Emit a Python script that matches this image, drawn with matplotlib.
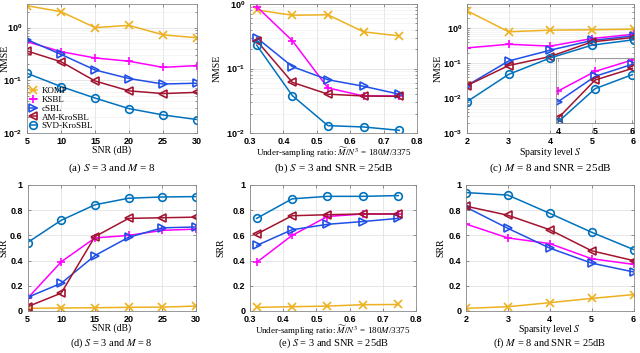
import numpy as np
import matplotlib
matplotlib.use('Agg')
import matplotlib.pyplot as plt
from matplotlib.ticker import LogLocator, NullFormatter

plt.rcParams['font.family'] = 'Liberation Serif'
plt.rcParams['mathtext.fontset'] = 'custom'
plt.rcParams['mathtext.rm'] = 'Liberation Sans:bold'
plt.rcParams['mathtext.bf'] = 'Liberation Sans:bold'
plt.rcParams['mathtext.it'] = 'Liberation Sans:bold'

# %%
# Data
methods = ['KOMP', 'KSBL', 'cSBL', 'AM-KroSBL', 'SVD-KroSBL']
colors = ['#EDB120', '#FF00FF', '#1F4FE6', '#A2142F', '#0072BD']
markers = ['x', '+', '>', '<', 'o']

snr = [5, 10, 15, 20, 25, 30]
ratio = [0.32, 0.4267, 0.5333, 0.64, 0.7467]
sparsity = [2, 3, 4, 5, 6]

nmse_snr = [[2.6, 2.0, 1.0, 1.1, 0.73, 0.64],
            [0.54, 0.35, 0.265, 0.23, 0.176, 0.19],
            [0.59, 0.31, 0.157, 0.108, 0.085, 0.088],
            [0.36, 0.225, 0.097, 0.063, 0.056, 0.059],
            [0.136, 0.076, 0.046, 0.029, 0.022, 0.018]]

nmse_ratio = [[0.81, 0.67, 0.68, 0.37, 0.32],
              [0.91, 0.27, 0.050, 0.0375, 0.0375],
              [0.30, 0.107, 0.067, 0.053, 0.040],
              [0.27, 0.061, 0.040, 0.0375, 0.037],
              [0.23, 0.038, 0.013, 0.0124, 0.011]]

nmse_sparsity = [[3.2, 0.80, 0.89, 0.91, 0.95],
                 [0.276, 0.35, 0.31, 0.51, 0.68],
                 [0.023, 0.116, 0.237, 0.45, 0.61],
                 [0.023, 0.086, 0.156, 0.41, 0.55],
                 [0.0079, 0.048, 0.142, 0.33, 0.47]]

srr_snr = [[0.021, 0.024, 0.026, 0.029, 0.031, 0.039],
           [0.10, 0.39, 0.58, 0.60, 0.64, 0.65],
           [0.108, 0.22, 0.44, 0.585, 0.66, 0.667],
           [0.034, 0.142, 0.59, 0.735, 0.74, 0.745],
           [0.543, 0.72, 0.843, 0.895, 0.905, 0.908]]

srr_ratio = [[0.029, 0.034, 0.039, 0.05, 0.052],
             [0.386, 0.60, 0.75, 0.77, 0.77],
             [0.52, 0.645, 0.688, 0.71, 0.735],
             [0.61, 0.756, 0.764, 0.77, 0.77],
             [0.735, 0.89, 0.91, 0.91, 0.916]]

srr_sparsity = [[0.021, 0.034, 0.066, 0.10, 0.13],
                [0.69, 0.58, 0.535, 0.415, 0.37],
                [0.824, 0.656, 0.499, 0.38, 0.31],
                [0.832, 0.76, 0.645, 0.478, 0.40],
                [0.94, 0.92, 0.775, 0.625, 0.488]]

captions = [r'(a) $S$ = 3 and $M$ = 8',
            r'(b) $S$ = 3 and SNR = 25dB',
            r'(c) $M$ = 8 and SNR = 25dB',
            r'(d) $S$ = 3 and $M$ = 8',
            r'(e) $S$ = 3 and SNR = 25dB',
            r'(f) $M$ = 8 and SNR = 25dB']
xlabels = ['SNR (dB)',
           r'Under-sampling ratio: $\widetilde{M}/N^3$ = 180$M$/3375',
           r'Sparsity level $S$']

W, H = 640, 353
TICKFONT = dict(family='Liberation Sans', weight='bold', size=6.5)


# %%
def box(left, top, right, bottom):
    return [left / W, 1 - bottom / H, (right - left) / W, (bottom - top) / H]


def style(ax, logy=False):
    ax.grid(True, which='major', color='#dddddd', lw=0.5)
    if logy:
        ax.yaxis.set_minor_locator(LogLocator(base=10, subs=np.arange(2, 10)))
        ax.yaxis.set_minor_formatter(NullFormatter())
        ax.grid(True, which='minor', axis='y', color='#eeeeee', lw=0.4)
    ax.set_axisbelow(True)
    for s in ax.spines.values():
        s.set_color('#888888')
        s.set_linewidth(0.6)
    ax.tick_params(which='both', direction='in', top=True, right=True,
                   color='#666666', length=2.5, width=0.5, pad=3.5)
    ax.tick_params(axis='x', pad=2.8)
    ax.tick_params(which='minor', length=1.2)
    for lbl in ax.get_xticklabels() + ax.get_yticklabels():
        lbl.set_fontproperties(TICKFONT)


def draw(ax, x, series, ms=5.5):
    for i in range(len(methods)):
        ax.plot(x, series[i], color=colors[i], marker=markers[i], ms=ms,
                mfc='none', mew=1.2, lw=1.1, label=methods[i])


def logticks(ax, lo, hi):
    vals = [10.0 ** k for k in range(lo, hi + 1)]
    ax.set_yticks(vals, labels=[r'$\mathbf{10^{%d}}$' % k for k in range(lo, hi + 1)])


fig = plt.figure(figsize=(W / 100, H / 100), dpi=100)

top_boxes = [box(27, 4, 197, 133), box(250, 4, 417, 133), box(467, 4, 633.5, 133)]
bot_boxes = [box(27.5, 185, 196, 311), box(250, 185, 416, 311), box(466, 185, 633.5, 311)]
xs = [snr, ratio, sparsity]
xlims = [(5, 30), (0.3, 0.8), (2, 6)]
xticks = [snr, [0.3, 0.4, 0.5, 0.6, 0.7, 0.8], sparsity]
nmse = [nmse_snr, nmse_ratio, nmse_sparsity]
srr = [srr_snr, srr_ratio, srr_sparsity]
ylims = [(1e-2, 2.8), (1e-2, 1), (1e-3, 5)]
ylo = [-2, -2, -3]
ylab_top = [(-0.103, 0.58), (-0.17, 0.5), (-0.146, 0.5)]
ylab_x_bot = [-0.115, -0.15, -0.125]
xlab_size = [7, 6.5, 7]

for j in range(3):
    # NMSE row
    ax = fig.add_axes(top_boxes[j])
    draw(ax, xs[j], nmse[j])
    ax.set_yscale('log')
    ax.set_xlim(*xlims[j])
    ax.set_ylim(*ylims[j])
    ax.set_xticks(xticks[j], labels=[('%g' % v) for v in xticks[j]])
    logticks(ax, ylo[j], 0)
    style(ax, logy=True)
    ax.set_ylabel('NMSE', fontsize=7)
    ax.yaxis.set_label_coords(*ylab_top[j])
    ax.set_xlabel(xlabels[j], fontsize=xlab_size[j], labelpad=0, math_fontfamily='stix')
    if j == 0:
        ax.legend(loc='lower left', frameon=False, fontsize=6.5, handlelength=0.8,
                  handletextpad=0.5, labelspacing=0.05, borderaxespad=0.2,
                  borderpad=0.1, bbox_to_anchor=(0.0, 0.0))
    if j == 2:
        ins = fig.add_axes(box(556, 57.7, 633.5, 122.7))
        ins.set_facecolor('white')
        for i in range(1, len(methods)):
            ins.plot(sparsity[2:], nmse_sparsity[i][2:], color=colors[i],
                     marker=markers[i], ms=5.5, mfc='none', mew=1.2, lw=1.1)
        ins.set_yscale('log')
        ins.set_xlim(3.95, 6.03)
        ins.set_ylim(0.14, 0.72)
        ins.set_xticks([4, 5, 6], labels=['4', '5', '6'])
        style(ins, logy=True)
        ins.tick_params(which='both', labelleft=False, left=False, right=False)
        ins.set_yticks([])

    # SRR row
    ax2 = fig.add_axes(bot_boxes[j])
    draw(ax2, xs[j], srr[j])
    ax2.set_xlim(*xlims[j])
    ax2.set_ylim(0, 1)
    ax2.set_xticks(xticks[j], labels=[('%g' % v) for v in xticks[j]])
    ax2.set_yticks([0, 0.2, 0.4, 0.6, 0.8, 1], labels=['0', '0.2', '0.4', '0.6', '0.8', '1'])
    style(ax2)
    ax2.set_ylabel('SRR', fontsize=7)
    ax2.yaxis.set_label_coords(ylab_x_bot[j], 0.5)
    ax2.set_xlabel(xlabels[j], fontsize=xlab_size[j], labelpad=-0.5, math_fontfamily='stix')

    cx_top = top_boxes[j][0] + top_boxes[j][2] / 2
    cx_bot = bot_boxes[j][0] + bot_boxes[j][2] / 2
    fig.text(cx_top, 1 - 168 / H, captions[j], ha='center', va='center',
             fontsize=8, math_fontfamily='stix')
    fig.text(cx_bot, 2.5 / H, captions[j + 3], ha='center', va='bottom',
             fontsize=7.5, math_fontfamily='stix')

fig.savefig('out.png', dpi=100)
